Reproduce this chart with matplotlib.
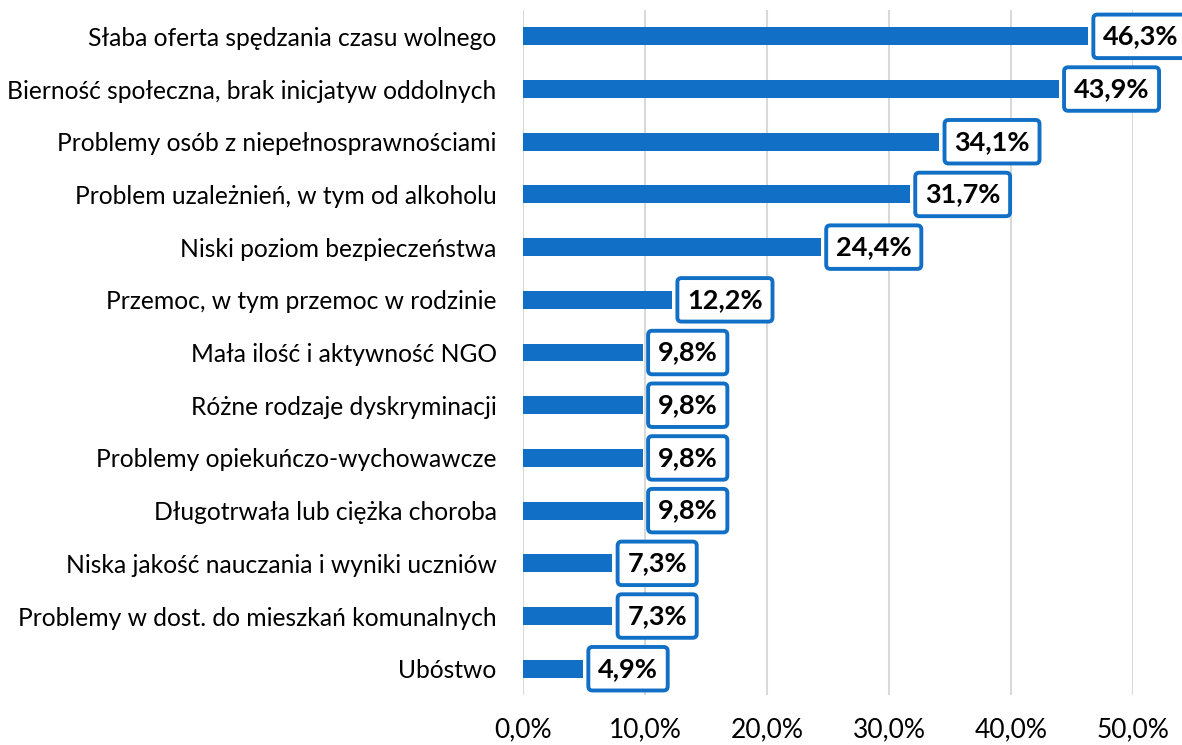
import matplotlib.pyplot as plt
from matplotlib.ticker import FuncFormatter

plt.rcParams['font.family'] = ['Lato', 'DejaVu Sans']

kategorie = [
    "Słaba oferta spędzania czasu wolnego",
    "Bierność społeczna, brak inicjatyw oddolnych",
    "Problemy osób z niepełnosprawnościami",
    "Problem uzależnień, w tym od alkoholu",
    "Niski poziom bezpieczeństwa",
    "Przemoc, w tym przemoc w rodzinie",
    "Mała ilość i aktywność NGO",
    "Różne rodzaje dyskryminacji",
    "Problemy opiekuńczo-wychowawcze",
    "Długotrwała lub ciężka choroba",
    "Niska jakość nauczania i wyniki uczniów",
    "Problemy w dost. do mieszkań komunalnych",
    "Ubóstwo",
]
wartosci = [46.3, 43.9, 34.1, 31.7, 24.4, 12.2, 9.8, 9.8, 9.8, 9.8, 7.3, 7.3, 4.9]
os_x = [0, 10, 20, 30, 40, 50]

niebieski = "#1170C6"

fig = plt.figure(figsize=(11.82, 7.45), dpi=100)
ax = fig.add_axes([0.4425, 0.067, 0.516, 0.9196])

y = list(range(len(kategorie)))
ax.barh(y, wartosci, height=0.34, color=niebieski, zorder=3)

for yi, v in zip(y, wartosci):
    ax.annotate(f"{v:.1f}%".replace(".", ","), xy=(v, yi), xytext=(11, 0),
                textcoords="offset points", va="center", ha="left",
                fontsize=19.5, fontweight="bold", color="black", zorder=5,
                annotation_clip=False,
                bbox=dict(boxstyle="round,pad=0.36,rounding_size=0.15",
                          facecolor="white", edgecolor=niebieski, linewidth=2.8))

ax.set_ylim(len(kategorie) - 0.5, -0.5)
ax.set_xlim(0, 50)
ax.set_yticks(y)
ax.set_yticklabels(kategorie, fontsize=17.7)
ax.set_xticks(os_x)
ax.xaxis.set_major_formatter(FuncFormatter(lambda v, p: f"{v:.1f}%".replace(".", ",")))
ax.tick_params(axis="y", length=0, pad=19)
ax.tick_params(axis="x", length=0, pad=16, labelsize=19)

ax.grid(axis="x", color="#D9D9D9", linewidth=1.5, zorder=0)
for s in ax.spines.values():
    s.set_visible(False)

fig.savefig("out.png", dpi=100)
